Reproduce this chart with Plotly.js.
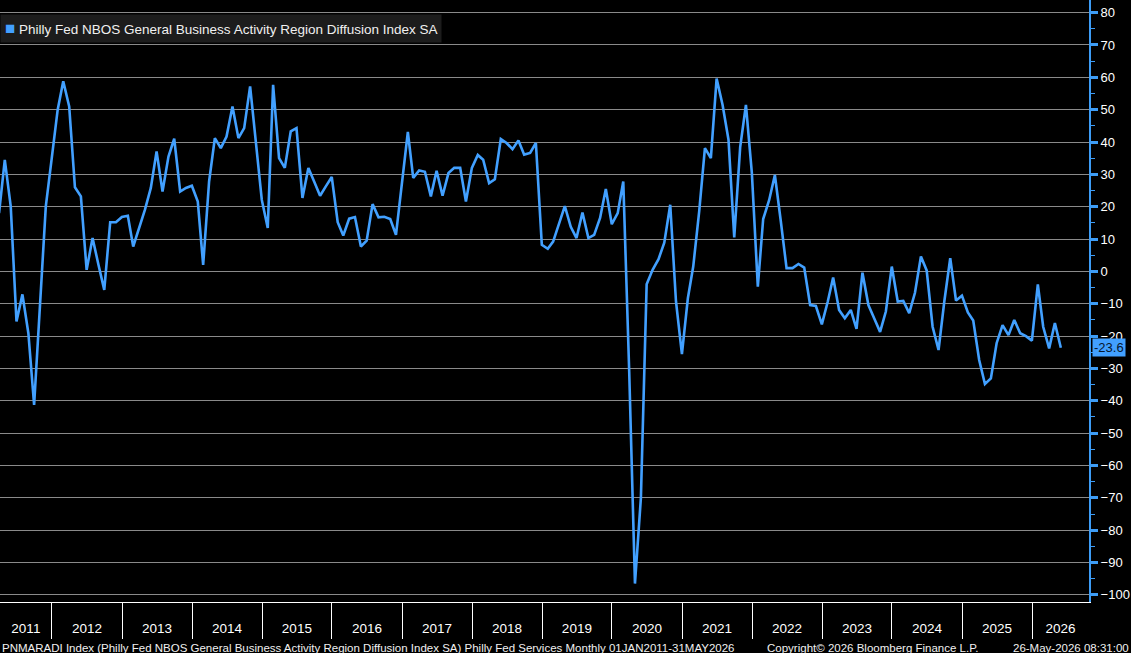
<!DOCTYPE html>
<html>
<head>
<meta charset="utf-8">
<script src="https://cdn.plot.ly/plotly-3.0.1.min.js"></script>
<style>
  html, body { margin: 0; padding: 0; background: #000; }
  #chart { width: 1131px; height: 653px; }
</style>
</head>
<body>
<div id="chart"></div>
<script>
// ---- Data ----
const seriesName = "Philly Fed NBOS General Business Activity Region Diffusion Index SA";
const startYear = 2011;
const startMonth = 3; // March 2011 (first monthly observation)
const values = [
  18,
  34.5, 20.1, -15.5, -7.1, -19.1, -41.3, -11, 20.1, 35,
  50, 58.8, 51, 26, 23.2, 0.5, 10.3, 2, -5.7, 15.2, 15.2, 16.8,
  17.2, 7.7, 13.4, 19, 25.8, 37.1, 24.7, 35.5, 41, 24.7, 25.8, 26.5,
  21.6, 2.0, 27.8, 41.2, 38.1, 41.7, 51.0, 41.2, 44.3, 57.2, 40, 22.1,
  13.4, 57.7, 35, 32, 43.3, 44.3, 22.7, 32, 27.8, 23.4, 26.3, 29.2,
  15.2, 11.1, 16.3, 16.8, 7.7, 9.5, 20.8, 16.7, 16.9, 16.2, 11.3, 27,
  43.1, 28.9, 31.2, 30.8, 23.2, 31.1, 23.4, 30.4, 32, 32, 21.6, 32,
  36, 34.5, 27.3, 28.5, 40.9, 39.7, 37.8, 40.5, 36.1, 36.6, 39.7, 8.2,
  7.0, 9.2, 14.9, 20.2, 13.8, 10.3, 18.2, 10.3, 11.3, 16.5, 25.5, 14.6,
  18, 27.8, -31, -96.5, -70, -4, 0.5, 3.8, 8.9, 20.6, -9.3, -25.6,
  -8.3, 1.5, 18.5, 38.1, 35, 59.6, 51.5, 40.7, 10.5, 38.4, 51.5, 30.4,
  -4.7, 16.2, 22, 29.8, 15.5, 1, 1, 2.3, 1.2, -10.4, -10.7, -16.4,
  -9.3, -1.9, -11.9, -14.5, -11.9, -17.8, -0.4, -10.4, -14.5, -18.7, -12.4, 1.5,
  -9.3, -9.1, -12.9, -6.6, 4.6, 0.3, -17.1, -24.3, -9.3, 4.1, -9, -7.5,
  -12.7, -15.2, -27.4, -34.8, -33.1, -22.2, -16.6, -19.7, -15, -19.1, -20, -21.4,
  -4, -17.1, -23.8, -16, -23.6
];
const yearLabels = ["2011","2012","2013","2014","2015","2016","2017","2018","2019","2020","2021","2022","2023","2024","2025","2026"];
const footerLeft = "PNMARADI Index (Philly Fed NBOS General Business Activity Region Diffusion Index SA) Philly Fed Services Monthly 01JAN2011-31MAY2026";
const footerMid = "Copyright\u00A9 2026 Bloomberg Finance L.P.";
const footerRight = "26-May-2026 08:31:00";

// ---- derived ----
function monthEnd(y, m) {
  return new Date(Date.UTC(y, m, 0)).toISOString().slice(0, 10);
}
const dates = values.map((v, i) => {
  const total = (startMonth - 1) + i;
  const y = startYear + Math.floor(total / 12);
  const m = (total % 12) + 1;
  return monthEnd(y, m);
});

const xRange = ["2011-04-05", "2026-10-25"];
const r0 = Date.parse(xRange[0]), r1 = Date.parse(xRange[1]);
// year label positions: middle of the visible part of each year
const yearMid = yearLabels.map(ys => {
  const y = +ys;
  const a = Math.max(Date.UTC(y, 0, 1), r0);
  const b = Math.min(Date.UTC(y + 1, 0, 1), r1);
  return new Date((a + b) / 2).toISOString().slice(0, 10);
});
// year separators at the start of each year
const yearStarts = yearLabels.map(ys => ys + "-01-01");

const BLUE = "#42a0ff";
const AXBLUE = "#3d9cf5";
const FONT = "Liberation Sans, Arial, sans-serif";
const last = values[values.length - 1];

const trace = {
  x: dates,
  y: values,
  type: "scatter",
  mode: "lines",
  line: { color: BLUE, width: 2.6 },
  name: seriesName,
  showlegend: false,
  hoverinfo: "x+y"
};

const layout = {
  width: 1131,
  height: 653,
  paper_bgcolor: "#000000",
  plot_bgcolor: "#000000",
  margin: { l: 0, r: 42, t: 0, b: 51, pad: 0 },
  showlegend: false,
  xaxis: {
    type: "date",
    range: xRange,
    showgrid: false,
    zeroline: false,
    showline: true,
    linecolor: "#ffffff",
    linewidth: 1,
    tickmode: "array",
    tickvals: yearMid,
    ticktext: yearLabels,
    ticks: "",
    ticklabelstandoff: 14,
    tickfont: { family: FONT, size: 13.5, color: "#ffffff" },
    minor: {
      tickmode: "array",
      tickvals: yearStarts,
      ticks: "outside",
      ticklen: 36,
      tickwidth: 1,
      tickcolor: "#ffffff",
      showgrid: false
    },
    fixedrange: true
  },
  yaxis: {
    side: "right",
    range: [-102.2, 83.9],
    dtick: 10,
    tick0: 0,
    showgrid: true,
    gridcolor: "#8a8a8a",
    gridwidth: 1,
    zeroline: false,
    showline: true,
    linecolor: AXBLUE,
    linewidth: 2,
    ticks: "outside",
    ticklen: 7,
    tickwidth: 3,
    tickcolor: AXBLUE,
    minor: { dtick: 5, ticks: "outside", ticklen: 4, tickwidth: 1, tickcolor: AXBLUE, showgrid: false },
    tickfont: { family: FONT, size: 13, color: "#ffffff" },
    fixedrange: true
  },
  annotations: [
    {
      xref: "paper", yref: "paper", x: 0, y: 1, xanchor: "left", yanchor: "top",
      xshift: 0, yshift: -14,
      text: '<span style="color:' + BLUE + ';font-size:17px">\u25A0</span> ' + seriesName,
      showarrow: false,
      bgcolor: "#1c1c1c",
      borderpad: 4,
      font: { family: FONT, size: 13.5, color: "#f0f0f0" }
    },
    {
      xref: "paper", yref: "y", x: 1, y: last, xanchor: "left", yanchor: "middle",
      xshift: 3,
      text: last.toFixed(1),
      showarrow: false,
      bgcolor: BLUE,
      borderpad: 1,
      font: { family: FONT, size: 13, color: "#06162e" }
    },
    {
      xref: "paper", yref: "paper", x: 0, y: 0, xanchor: "left", yanchor: "top",
      yshift: -38, text: footerLeft, showarrow: false,
      font: { family: FONT, size: 11.5, color: "#f0f0f0" }
    },
    {
      xref: "paper", yref: "paper", x: 765 / 1089, y: 0, xanchor: "left", yanchor: "top",
      yshift: -38, text: footerMid, showarrow: false,
      font: { family: FONT, size: 11.5, color: "#f0f0f0" }
    },
    {
      xref: "paper", yref: "paper", x: 1131 / 1089, y: 0, xanchor: "right", yanchor: "top",
      yshift: -38, text: footerRight, showarrow: false,
      font: { family: FONT, size: 11.5, color: "#f0f0f0" }
    }
  ]
};

Plotly.newPlot("chart", [trace], layout, { displayModeBar: false, staticPlot: true });
</script>
</body>
</html>
